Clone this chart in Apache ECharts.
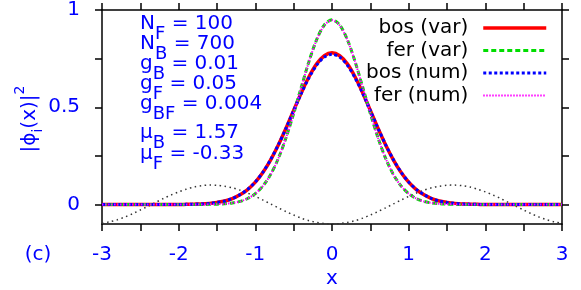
<!DOCTYPE html>
<html>
<head>
<meta charset="utf-8">
<script src="https://cdn.jsdelivr.net/npm/echarts@6/dist/echarts.min.js"></script>
<style>html,body{margin:0;padding:0;background:#fff}#c{width:581px;height:290px}</style>
</head>
<body>
<div id="c"></div>
<script>
// ---- data ----
const xs = [-3.0,-2.9,-2.8,-2.7,-2.6,-2.5,-2.4,-2.3,-2.2,-2.1,-2.0,-1.9,-1.8,-1.7,-1.6,-1.5,-1.4,-1.3,-1.2,-1.1,-1.0,-0.9,-0.8,-0.7,-0.6,-0.5,-0.4,-0.3,-0.2,-0.1,0.0,0.1,0.2,0.3,0.4,0.5,0.6,0.7,0.8,0.9,1.0,1.1,1.2,1.3,1.4,1.5,1.6,1.7,1.8,1.9,2.0,2.1,2.2,2.3,2.4,2.5,2.6,2.7,2.8,2.9,3.0];
const bosVar = [0,0,0,0,0,0,0,0,0,0,0,0.001,0.002,0.003,0.006,0.011,0.018,0.031,0.050,0.077,0.115,0.166,0.230,0.306,0.392,0.484,0.575,0.657,0.723,0.765,0.780,0.765,0.723,0.657,0.575,0.484,0.392,0.306,0.230,0.166,0.115,0.077,0.050,0.031,0.018,0.011,0.006,0.003,0.002,0.001,0,0,0,0,0,0,0,0,0,0,0];
const ferVar = [0,0,0,0,0,0,0,0,0,0,0,0,0,0,0.001,0.002,0.004,0.008,0.016,0.031,0.056,0.096,0.155,0.237,0.343,0.468,0.604,0.736,0.848,0.923,0.950,0.923,0.848,0.736,0.604,0.468,0.343,0.237,0.155,0.096,0.056,0.031,0.016,0.008,0.004,0.002,0.001,0,0,0,0,0,0,0,0,0,0,0,0,0,0];
const bosNum = [0,0,0,0,0,0,0,0,0,0,0,0.001,0.002,0.003,0.006,0.011,0.018,0.031,0.051,0.078,0.116,0.167,0.231,0.307,0.392,0.483,0.572,0.652,0.717,0.758,0.772,0.758,0.717,0.652,0.572,0.483,0.392,0.307,0.231,0.167,0.116,0.078,0.051,0.031,0.018,0.011,0.006,0.003,0.002,0.001,0,0,0,0,0,0,0,0,0,0,0];
const ferNum = [0,0,0,0,0,0,0,0,0,0,0,0,0,0,0.001,0.002,0.004,0.008,0.016,0.031,0.056,0.096,0.155,0.237,0.343,0.468,0.603,0.735,0.847,0.921,0.948,0.921,0.847,0.735,0.603,0.468,0.343,0.237,0.155,0.096,0.056,0.031,0.016,0.008,0.004,0.002,0.001,0,0,0,0,0,0,0,0,0,0,0,0,0,0];
const potential = [-0.096,-0.089,-0.078,-0.064,-0.047,-0.028,-0.009,0.011,0.031,0.049,0.065,0.079,0.090,0.097,0.100,0.099,0.094,0.086,0.074,0.059,0.042,0.023,0.003,-0.017,-0.036,-0.054,-0.070,-0.083,-0.092,-0.098,-0.100,-0.098,-0.092,-0.083,-0.070,-0.054,-0.036,-0.017,0.003,0.023,0.042,0.059,0.074,0.086,0.094,0.099,0.100,0.097,0.090,0.079,0.065,0.049,0.031,0.011,-0.009,-0.028,-0.047,-0.064,-0.078,-0.089,-0.096];
const seriesNames = ['bos (var)','fer (var)','bos (num)','fer (num)'];
const xTicks = [-3,-2.5,-2,-1.5,-1,-0.5,0,0.5,1,1.5,2,2.5,3];
const xLabels = [-3,-2,-1,0,1,2,3];
const yTicks = [0,0.25,0.5,0.75,1];
const yLabels = [0,0.5,1];
const paramLines = [
  ['N','F',' = 100'],
  ['N','B',' = 700'],
  ['g','B',' = 0.01'],
  ['g','F',' = 0.05'],
  ['g','BF',' = 0.004'],
  ['μ','B',' = 1.57'],
  ['μ','F',' = -0.33']
];
const yName = ['|ϕ','i','(x)|','2'];
const panelTag = '(c)';
const xName = 'x';

// ---- chart ----
const FONT = 'DejaVu Sans';
const BLUE = '#0000ff';
const ctx = document.createElement('canvas').getContext('2d');
function tw(t, size){ ctx.font = size + 'px "' + FONT + '"'; return ctx.measureText(t).width; }
function txt(t, x, y, size, extra){
  return Object.assign({type:'text', x:x, y:y, silent:true,
    style:{text:t, fill:BLUE, font:size+'px "'+FONT+'"', align:'left', verticalAlign:'middle'}}, extra||{});
}
const pair = arr => xs.map((x,i)=>[x,arr[i]]);
const chart = echarts.init(document.getElementById('c'), null, {renderer:'canvas'});
const axisLine = {show:true, onZero:false, lineStyle:{color:'#000', width:1.5}};
const tickStyle = {color:'#000', width:1.5};

const rowMid = [23.5, 43.5, 64, 84, 104, 133, 153.5];
const MAIN = 20, SUB = 18, DROP = 10.5;
const graphics = [];
paramLines.forEach((p,i)=>{
  const x0 = 140, y0 = rowMid[i];
  const w1 = tw(p[0], MAIN), w2 = tw(p[1], SUB);
  graphics.push(txt(p[0], x0, y0, MAIN));
  graphics.push(txt(p[1], x0 + w1, y0 + DROP, SUB));
  graphics.push(txt(p[2], x0 + w1 + w2, y0, MAIN));
});
// rotated y-axis title
(function(){
  const s1 = 20, s2 = 14;
  const w = [tw(yName[0],s1), tw(yName[1],s2), tw(yName[2],s1), tw(yName[3],s2)];
  const total = w[0]+w[1]+w[2]+w[3];
  const cx = 30, cy = 119;
  graphics.push({type:'group', x:cx, y:cy + total/2, rotation:Math.PI/2, silent:true, children:[
    txt(yName[0], 0, 0, s1),
    txt(yName[1], w[0], 8, s2),
    txt(yName[2], w[0]+w[1], 0, s1),
    txt(yName[3], w[0]+w[1]+w[2], -10, s2)
  ]});
})();
graphics.push(txt(panelTag, 38, 255, 20, {style:{text:panelTag, fill:BLUE, font:'20px "'+FONT+'"', align:'center', verticalAlign:'middle'}}));
graphics.push(txt(xName, 332, 278.5, 20, {style:{text:xName, fill:BLUE, font:'20px "'+FONT+'"', align:'center', verticalAlign:'middle'}}));

chart.setOption({
  animation:false,
  textStyle:{fontFamily:FONT},
  grid:{left:102, right:19, top:6, bottom:66, containLabel:false},
  legend:{
    data:seriesNames, orient:'vertical', align:'right', right:33, top:18, padding:0,
    itemGap:2.5, itemWidth:63, itemHeight:14, selectedMode:false,
    itemStyle:{opacity:0, color:'rgba(0,0,0,0)', borderWidth:0},
    lineStyle:{width:'inherit'},
    textStyle:{fontFamily:FONT, fontSize:20, color:'#000', lineHeight:20, padding:[0,10,0,0]}
  },
  xAxis:[
    {type:'value', min:-3, max:3, interval:0.5, position:'bottom', axisLine,
     splitLine:{show:false},
     axisTick:{inside:false, length:7, lineStyle:tickStyle, customValues:xTicks},
     axisLabel:{customValues:xLabels, margin:21, color:BLUE, fontSize:20, fontFamily:FONT}},
    {type:'value', min:-3, max:3, interval:0.5, position:'top', axisLine,
     splitLine:{show:false},
     axisTick:{inside:false, length:7, lineStyle:tickStyle, customValues:xTicks},
     axisLabel:{show:false}}
  ],
  yAxis:[
    {type:'value', min:-0.1, max:1, position:'left', axisLine,
     splitLine:{show:false},
     axisTick:{inside:false, length:7, lineStyle:tickStyle, customValues:yTicks},
     axisLabel:{customValues:yLabels, margin:22, color:BLUE, fontSize:20, fontFamily:FONT}},
    {type:'value', min:-0.1, max:1, position:'right', axisLine,
     splitLine:{show:false},
     axisTick:{inside:false, length:7, lineStyle:tickStyle, customValues:yTicks},
     axisLabel:{show:false}}
  ],
  series:[
    {name:'pot', type:'line', data:pair(potential), symbol:'none', smooth:0.3, z:1,
     lineStyle:{color:'#333', width:1.5, type:[1.5,3.5]}},
    {name:'bos (var)', type:'line', data:pair(bosVar), symbol:'none', smooth:0.3, z:2,
     lineStyle:{color:'#ff0000', width:3.5, type:'solid'}, itemStyle:{color:'#ff0000'}},
    {name:'fer (var)', type:'line', data:pair(ferVar), symbol:'none', smooth:0.3, z:3,
     lineStyle:{color:'#00dd00', width:3, type:[5,3]}, itemStyle:{color:'#00dd00'}},
    {name:'bos (num)', type:'line', data:pair(bosNum), symbol:'none', smooth:0.3, z:4,
     lineStyle:{color:'#0000ff', width:3, type:[3,2.5]}, itemStyle:{color:'#0000ff'}},
    {name:'fer (num)', type:'line', data:pair(ferNum), symbol:'none', smooth:0.3, z:5,
     lineStyle:{color:'#ff00ff', width:2, type:[1.5,1.5]}, itemStyle:{color:'#ff00ff'}}
  ],
  graphic:graphics
});
</script>
</body>
</html>
